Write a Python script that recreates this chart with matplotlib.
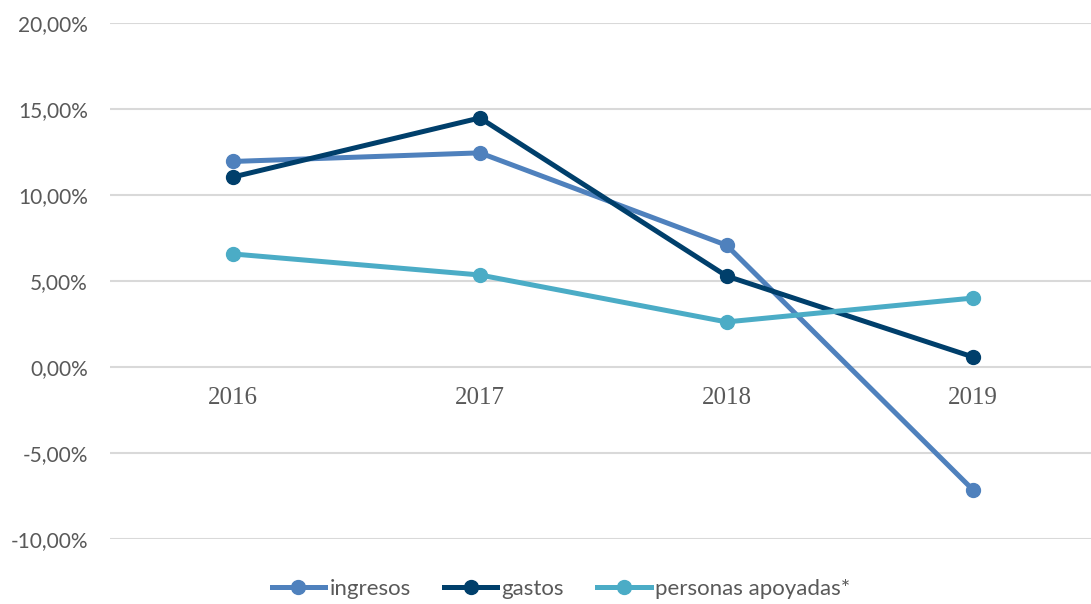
import matplotlib.pyplot as plt
from matplotlib.ticker import FuncFormatter

years = ["2016", "2017", "2018", "2019"]
ingresos = [11.95, 12.45, 7.08, -7.15]
gastos = [11.05, 14.48, 5.29, 0.58]
personas = [6.57, 5.35, 2.62, 4.01]

fig = plt.figure(figsize=(10.91, 6.04), dpi=100)
ax = fig.add_axes([110 / 1091, 65 / 604, 981 / 1091, 516 / 604])

x = range(len(years))
ax.plot(x, ingresos, color="#4F81BD", lw=3.6, marker="o", ms=10, label="ingresos", zorder=3)
ax.plot(x, gastos, color="#003F6B", lw=3.6, marker="o", ms=10, label="gastos", zorder=3)
ax.plot(x, personas, color="#4BACC6", lw=3.6, marker="o", ms=10, label="personas apoyadas*", zorder=3)

ax.set_ylim(-10, 20)
ax.set_xlim(-0.5, 3.478)
ax.set_yticks([-10, -5, 0, 5, 10, 15, 20])
ax.yaxis.set_major_formatter(FuncFormatter(lambda v, p: f"{v:.2f}%".replace(".", ",")))
ax.grid(axis="y", color="#D9D9D9", lw=1.5)
ax.set_axisbelow(True)
for s in ["top", "right", "left", "bottom"]:
    ax.spines[s].set_visible(False)
ax.tick_params(axis="y", length=0, pad=16, labelsize=15, labelcolor="#595959")
for lab in ax.get_yticklabels():
    lab.set_family("Lato")

ax.set_xticks([])
for i, yr in enumerate(years):
    ax.annotate(yr, (i, 0), xytext=(0, -31), textcoords="offset pixels",
                ha="center", va="center", fontsize=18, color="#595959", family="Liberation Serif")

fig.legend(loc="center", bbox_to_anchor=(561 / 1091, 1 - 589 / 604), ncol=3, frameon=False,
           prop={"family": "Lato", "size": 16}, labelcolor="#595959",
           handlelength=2.4, handletextpad=0.2, columnspacing=1.5)

fig.savefig("out.png", dpi=100)
